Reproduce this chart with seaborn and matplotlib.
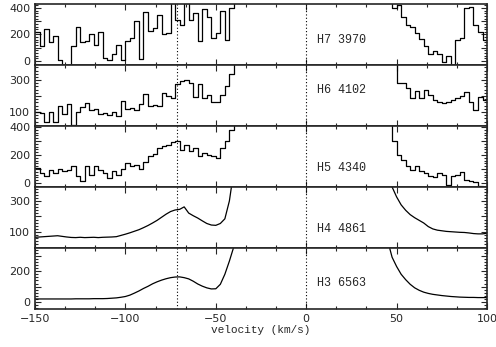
import matplotlib
matplotlib.use("Agg")
import matplotlib.pyplot as plt
from matplotlib.ticker import MultipleLocator, FuncFormatter
import seaborn as sns

# velocity grid (km/s), blue and red side of the line
v_left = [-150, -147.5, -145, -142.5, -140, -137.5, -135, -132.5, -130, -127.5,
          -125, -122.5, -120, -117.5, -115, -112.5, -110, -107.5, -105, -102.5,
          -100, -97.5, -95, -92.5, -90, -87.5, -85, -82.5, -80, -77.5,
          -75, -72.5, -70, -67.5, -65, -62.5, -60, -57.5, -55, -52.5,
          -50, -47.5, -45, -42.5, -40]
v_right = [45, 47.5, 50, 52.5, 55, 57.5, 60, 62.5, 65, 67.5, 70, 72.5,
           75, 77.5, 80, 82.5, 85, 87.5, 90, 92.5, 95, 97.5, 100]

# profiles
h7_left = [220, 110, 240, 140, 190, 10, -60, -60, 112, 260,
           140, 150, 200, 120, 220, 20, 10, 50, 120, 10,
           150, 170, 300, 15, 370, 230, 250, 350, 200, 215,
           450, 310, 270, 440, 310, 360, 150, 390, 330, 170,
           210, 380, 160, 400, 500]
h7_right = [500, 400, 420, 330, 275, 260, 215, 163, 112, 50, 75, 50,
            -10, 40, -60, 160, 175, 400, 410, 270, 220, 160, 160]

h6_left = [100, 95, 40, 100, 35, 140, 90, 150, 20, 100,
           130, 155, 110, 120, 90, 95, 80, 100, 75, 170,
           120, 125, 110, 150, 210, 140, 145, 135, 220, 200,
           190, 277, 294, 300, 285, 194, 277, 190, 205, 165,
           160, 205, 265, 340, 500]
h6_right = [500, 500, 285, 280, 250, 185, 230, 185, 240, 205, 175, 165,
            156, 160, 175, 185, 200, 225, 160, 112, 195, 175, 180]

h5_left = [110, 71, 50, 90, 70, 100, 85, 95, 119, 48,
           12, 119, 60, 119, 95, 71, 36, 85, 60, 100,
           143, 119, 130, 100, 150, 190, 210, 250, 262, 274,
           290, 298, 238, 274, 226, 250, 190, 214, 200, 190,
           180, 250, 300, 380, 600]
h5_right = [600, 300, 200, 167, 119, 95, 119, 83, 71, 48, 40, 71,
            60, -12, 48, 55, 80, 24, 12, 5, -20, -25, -25]

h4_left = [66, 68, 70, 72, 74, 76, 72, 68, 65, 64,
           66, 64, 65, 66, 64, 66, 67, 68, 70, 78,
           86, 95, 105, 115, 128, 142, 158, 175, 195, 215,
           232, 242, 246, 262, 222, 205, 190, 172, 155, 145,
           143, 155, 185, 300, 500]
h4_right = [600, 390, 326, 275, 240, 212, 192, 175, 158, 135, 120, 112,
            108, 104, 102, 100, 98, 97, 94, 90, 88, 88, 92]

h3_left = [20, 20, 20, 20, 20, 20, 20, 20, 20, 21,
           21, 21, 21, 22, 22, 22, 23, 25, 27, 31,
           36, 45, 58, 72, 88, 102, 118, 131, 142, 151,
           158, 162, 163, 158, 150, 135, 117, 103, 92, 85,
           86, 115, 180, 265, 360]
h3_right = [400, 290, 230, 180, 145, 115, 92, 76, 64, 56, 50, 46,
            42, 39, 36, 34, 32, 31, 30, 30, 29, 29, 29]

line_names = ["H7 3970", "H6 4102", "H5 4340", "H4 4861", "H3 6563"]
marked_velocities = [-71.6, 0]

sns.set_style("ticks")
plt.rcParams["font.family"] = ["DejaVu Sans"]
plt.rcParams["axes.linewidth"] = 1.2

fig, axes = plt.subplots(5, 1, figsize=(4.96, 3.47), dpi=100, sharex=True)
fig.subplots_adjust(left=0.0706, right=0.9819, top=0.9885, bottom=0.1095, hspace=0)

# (left, right, ylim, labelled y ticks, label height, step drawing)
panels = [
    (h7_left, h7_right, (-30, 430), [0, 200, 400], 0.41, True),
    (h6_left, h6_right, (12, 395), [100, 300], 0.59, True),
    (h5_left, h5_right, (-28, 407), [0, 200, 400], 0.31, True),
    (h4_left, h4_right, (-3, 390), [100, 300], 0.31, False),
    (h3_left, h3_right, (-45, 350), [0, 200], 0.43, False),
]

for ax, name, (yl, yr, ylim, shown, ty, steps) in zip(axes, line_names, panels):
    style = "steps-post" if steps else "default"
    for vx, vy in [(v_left, yl), (v_right, yr)]:
        sns.lineplot(x=vx, y=vy, ax=ax, color="black", lw=0.9,
                     drawstyle=style, estimator=None, sort=False)
    for v in marked_velocities:
        ax.axvline(v, color="black", ls=(0, (1, 2)), lw=0.8)
    ax.set_xlim(-150, 100)
    ax.set_ylim(*ylim)
    ax.yaxis.set_major_locator(MultipleLocator(100))
    ax.yaxis.set_minor_locator(MultipleLocator(20))
    ax.yaxis.set_major_formatter(
        FuncFormatter(lambda val, pos, s=shown: f"{int(round(val))}" if int(round(val)) in s else ""))
    ax.xaxis.set_major_locator(MultipleLocator(50))
    ax.xaxis.set_minor_locator(MultipleLocator(50 / 3))
    ax.tick_params(which="both", direction="in", top=True, right=True, labelsize=8, width=0.8)
    ax.tick_params(which="major", length=4)
    ax.tick_params(which="minor", length=2.5)
    ax.set_ylabel("")
    ax.text(6, ty, name, transform=ax.get_xaxis_transform(),
            family="Liberation Mono", fontsize=8.5, va="center", ha="left")

axes[-1].set_xlabel("velocity (km/s)", family="Liberation Mono", fontsize=8, labelpad=1)

plt.savefig("out.png", dpi=100)
plt.close()
